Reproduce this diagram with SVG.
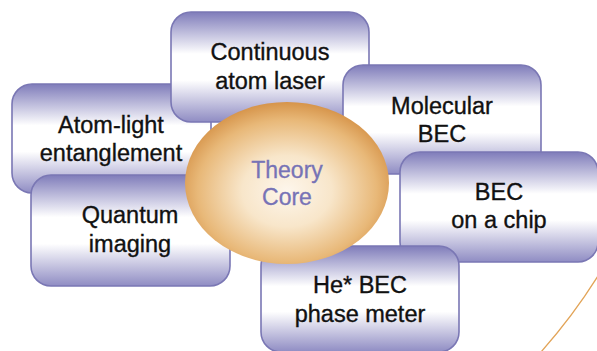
<svg xmlns="http://www.w3.org/2000/svg" width="597" height="351" viewBox="0 0 597 351">
<defs>
<linearGradient id="boxg" x1="0" y1="0" x2="0" y2="1">
<stop offset="0" stop-color="#7f7cba"/>
<stop offset="0.38" stop-color="#ffffff"/>
<stop offset="0.62" stop-color="#ffffff"/>
<stop offset="1" stop-color="#8f8cc3"/>
</linearGradient>
<radialGradient id="coreg" cx="0.5" cy="0.55" r="0.55">
<stop offset="0" stop-color="#fdf6ec"/>
<stop offset="0.4" stop-color="#f8e6ca"/>
<stop offset="0.8" stop-color="#e8b878"/>
<stop offset="1" stop-color="#d6944a"/>
</radialGradient>
</defs>
<style>
.box{fill:url(#boxg);stroke:#7a77b4;stroke-width:1.6}
.t{font-family:"Liberation Sans",Arial,sans-serif;font-size:23.5px;fill:#111;stroke:#111;stroke-width:0.35;text-anchor:middle}
.ct{font-family:"Liberation Sans",Arial,sans-serif;font-size:23px;fill:#7773b6;stroke:#7773b6;stroke-width:0.3;text-anchor:middle}
</style>
<rect width="597" height="351" fill="#ffffff"/>
<g id="connectors">
<path d="M541,352 Q573,316 598,276" fill="none" stroke="#e2a458" stroke-width="1.3"/>
</g>
<g id="atom-light">
<rect class="box" x="12" y="84" width="199" height="109" rx="20"/>
<text class="t" x="111" y="133">Atom-light</text>
<text class="t" x="111" y="161">entanglement</text>
</g>
<g id="continuous">
<rect class="box" x="171" y="12" width="198" height="110" rx="20"/>
<text class="t" x="270" y="60">Continuous</text>
<text class="t" x="270" y="89">atom laser</text>
</g>
<g id="molecular">
<rect class="box" x="343" y="65" width="198" height="109" rx="20"/>
<text class="t" x="442" y="114">Molecular</text>
<text class="t" x="442" y="142">BEC</text>
</g>
<g id="quantum">
<rect class="box" x="31" y="175" width="199" height="111" rx="20"/>
<text class="t" x="130" y="223">Quantum</text>
<text class="t" x="130" y="252">imaging</text>
</g>
<g id="chip">
<rect class="box" x="400" y="152" width="198" height="110" rx="20"/>
<text class="t" x="499" y="200">BEC</text>
<text class="t" x="499" y="228">on a chip</text>
</g>
<g id="he">
<rect class="box" x="261" y="246" width="198" height="106" rx="20"/>
<text class="t" x="360" y="293">He* BEC</text>
<text class="t" x="360" y="322">phase meter</text>
</g>
<g id="core">
<ellipse cx="287" cy="183" rx="102" ry="81" fill="url(#coreg)"/>
<text class="ct" x="287" y="178">Theory</text>
<text class="ct" x="287" y="205">Core</text>
</g>
</svg>
